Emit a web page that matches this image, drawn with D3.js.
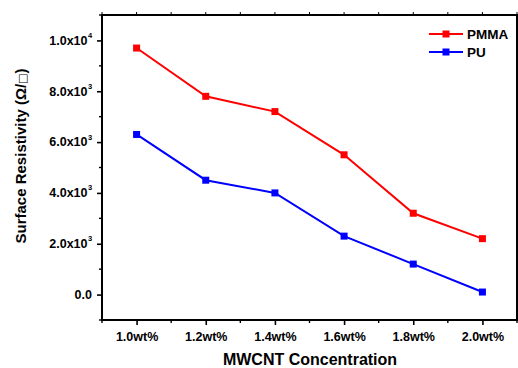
<!DOCTYPE html>
<html><head><meta charset="utf-8">
<script src="https://cdn.jsdelivr.net/npm/d3@7"></script>
<style>
body{margin:0;background:#fff;}
svg{display:block;}
text{font-family:"Liberation Sans",Arial,sans-serif;font-weight:bold;fill:#000;}
</style></head><body>
<svg id="c" width="518" height="368"></svg>
<script>
const categories = [1.0, 1.2, 1.4, 1.6, 1.8, 2.0];
const categoryLabels = ["1.0wt%", "1.2wt%", "1.4wt%", "1.6wt%", "1.8wt%", "2.0wt%"];
const pmma = [9700, 7800, 7200, 5500, 3200, 2200];
const pu = [6300, 4500, 4000, 2300, 1200, 100];
const yTicks = [0, 2000, 4000, 6000, 8000, 10000];
const yTickMantissa = ["0.0", "2.0x10", "4.0x10", "6.0x10", "8.0x10", "1.0x10"];
const yTickExp = ["", "3", "3", "3", "3", "4"];
const seriesNames = ["PMMA", "PU"];
const seriesColors = ["#ff0000", "#0000ff"];

const svg = d3.select("#c");
const L = 102, R = 517, T = 15, B = 320;
const x = d3.scaleLinear().domain([0.9, 2.1]).range([L, R]);
const y = d3.scaleLinear().domain([-1000, 11000]).range([B, T]);

// frame
svg.append("rect").attr("x", L).attr("y", T).attr("width", R - L).attr("height", B - T)
  .attr("fill", "none").attr("stroke", "#000").attr("stroke-width", 2);

const minorX = d3.range(0.9, 2.15, 0.1).map(v => +v.toFixed(2));
const minorY = d3.range(-1000, 11001, 1000);

// bottom axis
const gx = svg.append("g").attr("transform", `translate(0,${B})`);
gx.call(d3.axisBottom(x).tickValues(categories).tickSize(5).tickFormat((d, i) => categoryLabels[i]));
gx.select(".domain").remove();
gx.selectAll(".tick line").attr("stroke-width", 1.6);
gx.selectAll(".tick text").attr("font-size", 12.5).attr("y", 21).attr("dy", 0)
  .attr("font-family", "Liberation Sans, Arial, sans-serif").attr("font-weight", "bold");
gx.selectAll("line.minor").data(minorX.filter(v => !categories.some(c => Math.abs(c - v) < 1e-6)))
  .enter().append("line").attr("class", "minor")
  .attr("x1", d => x(d)).attr("x2", d => x(d)).attr("y1", 0).attr("y2", 3)
  .attr("stroke", "#000").attr("stroke-width", 1.4);

// top ticks
svg.append("g").selectAll("line").data(minorX).enter().append("line")
  .attr("x1", d => x(d)).attr("x2", d => x(d)).attr("y1", T).attr("y2", T - 3)
  .attr("stroke", "#000").attr("stroke-width", 1);

// left axis
const gy = svg.append("g").attr("transform", `translate(${L},0)`);
gy.call(d3.axisLeft(y).tickValues(yTicks).tickSize(5).tickFormat(() => ""));
gy.select(".domain").remove();
gy.selectAll(".tick line").attr("stroke-width", 1.6);
gy.selectAll(".tick text").remove();
gy.selectAll("line.minor").data(minorY.filter(v => !yTicks.includes(v)))
  .enter().append("line").attr("class", "minor")
  .attr("x1", 0).attr("x2", -3).attr("y1", d => y(d)).attr("y2", d => y(d))
  .attr("stroke", "#000").attr("stroke-width", 1.4);
svg.append("g").selectAll("text").data(yTicks).enter().append("text")
  .attr("x", (d, i) => yTickExp[i] ? 87.5 : 92).attr("y", d => y(d)).attr("dy", "0.35em")
  .attr("text-anchor", "end").attr("font-size", 12.5)
  .text((d, i) => yTickMantissa[i]);
svg.append("g").selectAll("text").data(yTicks.filter((d, i) => yTickExp[i])).enter().append("text")
  .attr("x", 88).attr("y", d => y(d) - 2.5).attr("font-size", 7.5)
  .text(d => yTickExp[yTicks.indexOf(d)]);

// right ticks
svg.append("g").selectAll("line").data(minorY).enter().append("line")
  .attr("x1", R).attr("x2", R + 3).attr("y1", d => y(d)).attr("y2", d => y(d))
  .attr("stroke", "#000").attr("stroke-width", 1);

// axis titles
svg.append("text").attr("x", 310).attr("y", 365).attr("text-anchor", "middle")
  .attr("font-size", 16).text("MWCNT Concentration");
const yt = svg.append("text").attr("transform", `translate(26,156) rotate(-90)`)
  .attr("text-anchor", "middle").attr("font-size", 15);
yt.append("tspan").text("Surface Resistivity (Ω/");
yt.append("tspan").attr("font-size", 11).attr("font-weight", "normal").attr("font-family", "DejaVu Sans").text("□");
yt.append("tspan").text(")");

// series
const series = [pmma, pu];
const line = d3.line().x((d, i) => x(categories[i])).y(d => y(d));
series.forEach((s, k) => {
  svg.append("path").datum(s).attr("d", line).attr("fill", "none")
    .attr("stroke", seriesColors[k]).attr("stroke-width", 2);
  svg.append("g").selectAll("rect").data(s).enter().append("rect")
    .attr("x", (d, i) => x(categories[i]) - 3.5).attr("y", d => y(d) - 3.5)
    .attr("width", 7).attr("height", 7).attr("fill", seriesColors[k]);
});

// legend
const leg = svg.append("g");
seriesNames.forEach((n, k) => {
  const ly = 34 + k * 18;
  leg.append("line").attr("x1", 429).attr("x2", 463).attr("y1", ly).attr("y2", ly)
    .attr("stroke", seriesColors[k]).attr("stroke-width", 2);
  leg.append("rect").attr("x", 446 - 3.5).attr("y", ly - 3.5).attr("width", 7).attr("height", 7)
    .attr("fill", seriesColors[k]);
  leg.append("text").attr("x", 467).attr("y", ly).attr("dy", "0.36em").attr("font-size", 13.5).text(n);
});
</script>
</body></html>
